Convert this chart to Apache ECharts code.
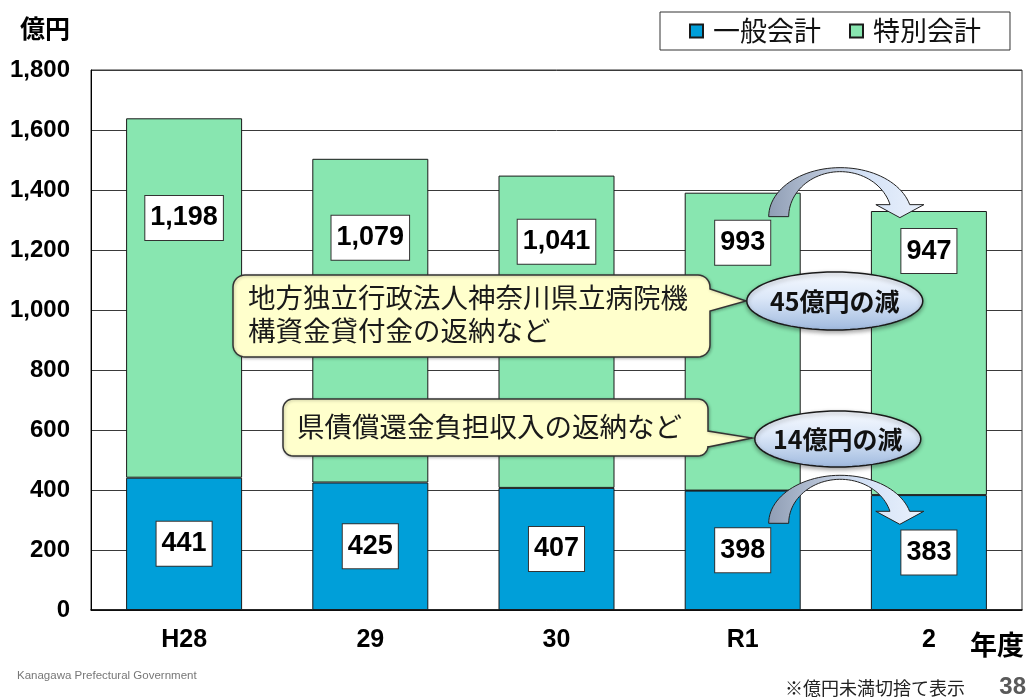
<!DOCTYPE html>
<html lang="ja">
<head>
<meta charset="utf-8">
<title>一般会計・特別会計の推移</title>
<script src="https://cdn.jsdelivr.net/npm/echarts@6/dist/echarts.min.js"></script>
<style>
  html, body { margin: 0; padding: 0; background: #fff; }
  #chart { width: 1031px; height: 697px; }
</style>
</head>
<body>
<div id="chart"></div>
<script>
// 年度別の一般会計・特別会計（億円、億円未満切捨て）
const years = ['H28', '29', '30', 'R1', '2'];
const generalAcct = [441, 425, 407, 398, 383];
const specialAcct = [1198, 1079, 1041, 993, 947];
const seriesNames = ['一般会計', '特別会計'];
const yMin = 0, yMax = 1800, yStep = 200;

// 注記テキスト
const noteSpecial = ['地方独立行政法人神奈川県立病院機', '構資金貸付金の返納など'];
const noteGeneral = ['県債償還金負担収入の返納など'];
// 減少額（切捨て前の金額で算出した値）
const reductionSpecial = 45;
const reductionGeneral = 14;

// 特別会計ラベルの縦位置の調整（px）
const specialLabelLift = [-80, -83, -90, -99, -102];

const LATIN = 'Liberation Sans, Arial, sans-serif';
const CJK = 'Noto Sans CJK JP, sans-serif';

const valueBox = {
  show: true,
  position: 'inside',
  formatter: p => Number(p.value).toLocaleString('en-US'),
  color: '#000',
  fontFamily: LATIN,
  fontWeight: 'bold',
  fontSize: 27,
  lineHeight: 32,
  backgroundColor: '#fff',
  borderColor: '#333',
  borderWidth: 1,
  padding: [7, 5, 5, 5]
};

const chart = echarts.init(document.getElementById('chart'), null, { renderer: 'canvas' });

chart.setOption({
  animation: false,
  backgroundColor: '#fff',
  legend: {
    data: seriesNames,
    left: 660,
    top: 12,
    padding: [5, 29, 5, 29],
    borderColor: '#333',
    borderWidth: 1,
    icon: 'rect',
    itemWidth: 13,
    itemHeight: 13,
    itemGap: 28,
    textStyle: {
      fontFamily: CJK,
      fontSize: 27,
      lineHeight: 28,
      color: '#111',
      padding: [0, 0, 0, 5]
    }
  },
  grid: {
    left: 91, right: 9, top: 70, bottom: 87,
    show: true,
    borderColor: '#333',
    borderWidth: 1
  },
  xAxis: {
    type: 'category',
    data: years,
    axisLine: { lineStyle: { color: '#000', width: 1.5 } },
    axisTick: { show: false },
    axisLabel: {
      margin: 18,
      color: '#000',
      fontFamily: LATIN,
      fontWeight: 'bold',
      fontSize: 25
    }
  },
  yAxis: {
    type: 'value',
    min: yMin,
    max: yMax,
    interval: yStep,
    axisLine: { show: true, lineStyle: { color: '#000', width: 1 } },
    axisTick: { show: false },
    splitLine: { lineStyle: { color: '#3a3a3a', width: 1 } },
    axisLabel: {
      margin: 21,
      color: '#000',
      fontFamily: LATIN,
      fontWeight: 'bold',
      fontSize: 24,
      formatter: v => v.toLocaleString('en-US')
    }
  },
  series: [
    {
      name: seriesNames[0],
      type: 'bar',
      stack: 'total',
      barWidth: 116,
      data: generalAcct,
      itemStyle: { color: '#009FD9', borderColor: '#1a1a1a', borderWidth: 1 },
      label: valueBox
    },
    {
      name: seriesNames[1],
      type: 'bar',
      stack: 'total',
      barWidth: 116,
      data: specialAcct.map((v, i) => ({ value: v, label: { offset: [0, specialLabelLift[i]] } })),
      itemStyle: { color: '#88E6B0', borderColor: '#1a1a1a', borderWidth: 1 },
      label: valueBox
    }
  ]
});

// ---- 注記・矢印 ----
const toPx = (i, v) => chart.convertToPixel({ xAxisIndex: 0, yAxisIndex: 0 }, [years[i], v]);

// 曲線の矢印（左端から右端へ弧を描き、右端に矢じり）
function curvedArrow(xTail, xHead, baseY, headBaseY, ryo) {
  const t = 20;
  const cx = (xTail + xHead) / 2;
  const rx = (xHead - xTail) / 2;
  const rxo = rx + t / 2, rxi = rx - t / 2, ryi = ryo - 4;
  const rise = baseY - headBaseY;
  const endO = Math.asin(rise / ryo), endI = Math.asin(rise / ryi);
  const pts = [];
  const n = 48;
  for (let k = 0; k <= n; k++) {
    const a = Math.PI - (Math.PI - endO) * k / n;
    pts.push([cx + rxo * Math.cos(a), baseY - ryo * Math.sin(a)]);
  }
  const xo = cx + rxo * Math.cos(endO);
  const xi = cx + rxi * Math.cos(endI);
  const hm = (xo + xi) / 2;
  pts.push([hm + 24, headBaseY], [hm, baseY + 1], [hm - 24, headBaseY]);
  for (let k = 0; k <= n; k++) {
    const a = endI + (Math.PI - endI) * k / n;
    pts.push([cx + rxi * Math.cos(a), baseY - ryi * Math.sin(a)]);
  }
  return {
    type: 'polygon',
    z: 120,
    shape: { points: pts },
    style: {
      fill: {
        type: 'linear', x: 0, y: 0, x2: 1, y2: 0,
        colorStops: [
          { offset: 0, color: '#8f9db4' },
          { offset: 0.45, color: '#c6d1e3' },
          { offset: 0.6, color: '#d3e1f6' },
          { offset: 1, color: '#eaf1fc' }
        ]
      },
      stroke: '#222',
      lineWidth: 1
    }
  };
}

// 角丸の四分円を点列で
function corner(pts, cx, cy, r, a0, a1) {
  const n = 8;
  for (let k = 0; k <= n; k++) {
    const a = a0 + (a1 - a0) * k / n;
    pts.push([cx + r * Math.cos(a), cy + r * Math.sin(a)]);
  }
}

// 吹き出し（角丸の枠と右向きのしっぽ）
function balloon(x0, y0, x1, y1, r, tailTop, tailBottom, tipX, tipY) {
  const P = Math.PI;
  const pts = [];
  corner(pts, x0 + r, y0 + r, r, P, 1.5 * P);
  corner(pts, x1 - r, y0 + r, r, 1.5 * P, 2 * P);
  pts.push([x1, tailTop], [tipX, tipY], [x1, tailBottom]);
  corner(pts, x1 - r, y1 - r, r, 0, 0.5 * P);
  corner(pts, x0 + r, y1 - r, r, 0.5 * P, P);
  return {
    type: 'polygon',
    z: 110,
    shape: { points: pts },
    style: {
      fill: '#FFFFCC', stroke: '#333', lineWidth: 1.5,
      shadowBlur: 3, shadowColor: 'rgba(0,0,0,0.25)', shadowOffsetX: 1, shadowOffsetY: 1
    }
  };
}

// 楕円の吹き出し（減少額）
function bubble(cx, cy, rx, ry, text) {
  const pts = [];
  const n = 72;
  for (let k = 0; k < n; k++) {
    const a = 2 * Math.PI * k / n;
    pts.push([cx + rx * Math.cos(a), cy + ry * Math.sin(a)]);
  }
  return [
    {
      type: 'polygon',
      z: 130,
      shape: { points: pts },
      style: {
        fill: {
          type: 'linear', x: 0, y: 0, x2: 0, y2: 1,
          colorStops: [
            { offset: 0, color: '#f7faff' },
            { offset: 0.45, color: '#dbe7f8' },
            { offset: 1, color: '#9fb9de' }
          ]
        },
        stroke: '#1a1a1a',
        lineWidth: 1.5,
        shadowBlur: 4, shadowColor: 'rgba(0,0,0,0.35)', shadowOffsetY: 2
      }
    },
    {
      type: 'text',
      z: 131,
      x: cx, y: cy,
      style: {
        text, fill: '#111', font: `bold 25px ${CJK}`,
        align: 'center', verticalAlign: 'middle'
      }
    }
  ];
}

const plainText = (x, y, text, font, fill, align) => ({
  type: 'text', z: 140, x, y,
  style: { text, font, fill: fill || '#000', align: align || 'left', verticalAlign: 'middle' }
});

const r1Center = toPx(3, 0)[0];
const y2Center = toPx(4, 0)[0];
const boxHalf = 22;

// 特別会計の減少を示す矢印（R1 → 2）
const spLabelY = toPx(3, generalAcct[3] + specialAcct[3] / 2)[1] + specialLabelLift[3];
const upperBase = spLabelY - boxHalf - 4;
// 一般会計の減少を示す矢印
const gnLabelY = toPx(3, generalAcct[3] / 2)[1];
const lowerBase = gnLabelY - boxHalf - 5;

const midX = (r1Center + y2Center) / 2;

chart.setOption({
  graphic: [
    plainText(20, 28, '億円', `bold 25px ${CJK}`),
    plainText(970, 645, '年度', `bold 27px ${CJK}`),
    plainText(17, 676, 'Kanagawa Prefectural Government', `11.5px ${LATIN}`, '#777'),
    plainText(785, 688, '※億円未満切捨て表示', `18px ${CJK}`, '#222'),
    plainText(1026, 687, '38', `bold 24px ${LATIN}`, '#595959', 'right'),

    balloon(233, 275, 710, 357, 12, 289, 311, 746, 301),
    plainText(248, 298, noteSpecial[0], `27.5px ${CJK}`, '#1a1a1a'),
    plainText(248, 331, noteSpecial[1], `27.5px ${CJK}`, '#1a1a1a'),

    balloon(283, 399, 708, 456, 10, 431, 447, 752, 438),
    plainText(297, 427, noteGeneral[0], `27.5px ${CJK}`, '#1a1a1a'),

    curvedArrow(r1Center + 36, y2Center - 27, upperBase, upperBase - 12, 49),
    curvedArrow(r1Center + 36, y2Center - 27, lowerBase, lowerBase - 12, 48),

    ...bubble(midX - 1, 301, 88, 29, `${reductionSpecial}億円の減`),
    ...bubble(midX + 2, 439, 83, 28, `${reductionGeneral}億円の減`)
  ]
});
</script>
</body>
</html>
